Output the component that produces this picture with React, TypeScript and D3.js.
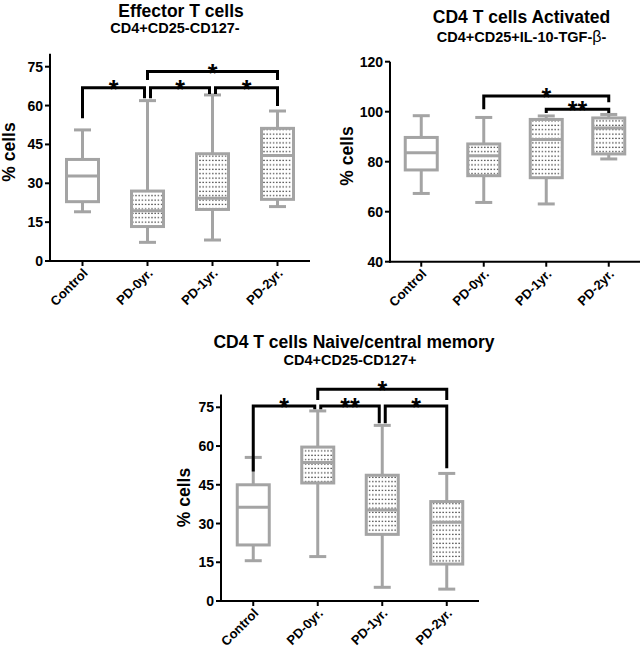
import React from "react";
import * as d3 from "d3";

const categories = ["Control", "PD-0yr.", "PD-1yr.", "PD-2yr."];
const patterned = [false, true, true, true];

// Effector T cells
const effTicks = [0, 15, 30, 45, 60, 75];
const effLow = [19.0, 7.2, 8.1, 21.0];
const effQ1 = [22.9, 13.3, 19.9, 23.8];
const effMed = [32.8, 19.4, 24.2, 40.7];
const effQ3 = [39.2, 27.0, 41.4, 51.2];
const effHigh = [50.6, 61.9, 64.1, 57.9];
const effBrackets = [
  { from: 0, to: 1, level: 66.9, leftEnd: 55.1, rightEnd: 62.8, label: "*" },
  { from: 1, to: 2, level: 66.9, leftEnd: 62.8, rightEnd: 64.5, label: "*" },
  { from: 1, to: 3, level: 73.1, leftEnd: 69.9, rightEnd: 69.9, label: "*" },
  { from: 2, to: 3, level: 66.9, leftEnd: 64.5, rightEnd: 59.8, label: "*" },
];

// CD4 T cells Activated
const actTicks = [40, 60, 80, 100, 120];
const actLow = [67.3, 63.7, 63.1, 81.1];
const actQ1 = [76.7, 74.4, 73.6, 83.1];
const actMed = [83.6, 82.4, 88.9, 93.5];
const actQ3 = [89.7, 87.1, 96.9, 97.5];
const actHigh = [98.4, 97.7, 98.3, 98.9];
const actBrackets = [
  { from: 1, to: 3, level: 106.3, leftEnd: 101.0, rightEnd: 103.8, label: "*" },
  { from: 2, to: 3, level: 101.0, leftEnd: 99.5, rightEnd: 99.5, label: "**" },
];

// CD4 T cells Naive/central memory
const naiTicks = [0, 15, 30, 45, 60, 75];
const naiLow = [15.6, 17.2, 5.3, 4.6];
const naiQ1 = [21.7, 45.7, 25.8, 14.3];
const naiMed = [36.3, 53.6, 35.2, 30.5];
const naiQ3 = [45.0, 59.6, 48.7, 38.5];
const naiHigh = [55.6, 73.6, 68.0, 49.4];
const naiBrackets = [
  { from: 0, to: 1, level: 75.5, leftEnd: 50.1, rightEnd: 74.2, label: "*" },
  { from: 1, to: 2, level: 75.5, leftEnd: 74.2, rightEnd: 68.8, label: "**" },
  { from: 1, to: 3, level: 82.0, leftEnd: 77.8, rightEnd: 77.8, label: "*" },
  { from: 2, to: 3, level: 75.5, leftEnd: 68.8, rightEnd: 51.4, label: "*" },
];

const FONT = "'Liberation Sans', Arial, Helvetica, sans-serif";
const GRAY = "#a4a4a4";

type Bracket = { from: number; to: number; level: number; leftEnd: number; rightEnd: number; label: string };

type PanelProps = {
  x0: number;
  x1: number;
  yBottom: number;
  yTop: number;
  domain: [number, number];
  ticks: number[];
  low: number[];
  q1: number[];
  med: number[];
  q3: number[];
  high: number[];
  brackets: Bracket[];
  title: string;
  subtitle: React.ReactNode;
  titleX: number;
  subX: number;
  titleY: number;
  subY: number;
  ylabX: number;
  ylabY: number;
};

function Panel(p: PanelProps) {
  const x = d3.scalePoint<string>().domain(categories).range([p.x0, p.x1]).padding(0.5);
  const y = d3.scaleLinear().domain(p.domain).range([p.yBottom, p.yTop]);
  const boxW = 32;
  const capW = 17;
  return (
    <g>
      <text x={p.titleX} y={p.titleY} textAnchor="middle" fontFamily={FONT} fontWeight="bold" fontSize={17.5}>
        {p.title}
      </text>
      <text x={p.subX} y={p.subY} textAnchor="middle" fontFamily={FONT} fontWeight="bold" fontSize={14.5}>
        {p.subtitle}
      </text>
      <text
        transform={`translate(${p.ylabX},${p.ylabY}) rotate(-90)`}
        textAnchor="middle"
        fontFamily={FONT}
        fontWeight="bold"
        fontSize={17.5}
      >
        % cells
      </text>
      {/* boxes */}
      {categories.map((c, i) => {
        const cx = x(c) as number;
        return (
          <g key={c} stroke={GRAY} strokeWidth={3} fill="none">
            <line x1={cx} x2={cx} y1={y(p.q3[i])} y2={y(p.high[i])} />
            <line x1={cx} x2={cx} y1={y(p.q1[i])} y2={y(p.low[i])} />
            <line x1={cx - capW / 2} x2={cx + capW / 2} y1={y(p.high[i])} y2={y(p.high[i])} />
            <line x1={cx - capW / 2} x2={cx + capW / 2} y1={y(p.low[i])} y2={y(p.low[i])} />
            <rect
              x={cx - boxW / 2}
              y={y(p.q3[i])}
              width={boxW}
              height={y(p.q1[i]) - y(p.q3[i])}
              fill={patterned[i] ? "url(#dots)" : "white"}
            />
            <line x1={cx - boxW / 2} x2={cx + boxW / 2} y1={y(p.med[i])} y2={y(p.med[i])} />
          </g>
        );
      })}
      {/* axes */}
      <g stroke="black" strokeWidth={2}>
        <line x1={p.x0} x2={p.x0} y1={p.yTop} y2={p.yBottom + 1} />
        <line x1={p.x0 - 1} x2={p.x1} y1={p.yBottom} y2={p.yBottom} />
        {p.ticks.map((t) => (
          <line key={t} x1={p.x0 - 5} x2={p.x0} y1={y(t)} y2={y(t)} />
        ))}
        {categories.map((c) => (
          <line key={c} x1={x(c)} x2={x(c)} y1={p.yBottom} y2={p.yBottom + 5} />
        ))}
      </g>
      {p.ticks.map((t) => (
        <text
          key={t}
          x={p.x0 - 7}
          y={y(t)}
          dy="0.36em"
          textAnchor="end"
          fontFamily={FONT}
          fontWeight="bold"
          fontSize={14}
        >
          {t}
        </text>
      ))}
      {categories.map((c) => (
        <text
          key={c}
          transform={`translate(${(x(c) as number) + 6},${p.yBottom + 13}) rotate(-45)`}
          textAnchor="end"
          fontFamily={FONT}
          fontWeight="bold"
          fontSize={13}
        >
          {c}
        </text>
      ))}
      {/* significance brackets */}
      {p.brackets.map((b, k) => {
        const sharedLeft = p.brackets.some((o) => o !== b && o.level === b.level && o.to === b.from);
        const sharedRight = p.brackets.some((o) => o !== b && o.level === b.level && o.from === b.to);
        const xl = (x(categories[b.from]) as number) + (sharedLeft ? 3 : 0);
        const xr = (x(categories[b.to]) as number) - (sharedRight ? 3 : 0);
        const path = d3.path();
        path.moveTo(xl, y(b.leftEnd));
        path.lineTo(xl, y(b.level));
        path.lineTo(xr, y(b.level));
        path.lineTo(xr, y(b.rightEnd));
        return (
          <g key={k}>
            <path d={path.toString()} stroke="black" strokeWidth={3} fill="none" />
            <text
              x={(xl + xr) / 2}
              y={y(b.level) + 10}
              textAnchor="middle"
              fontFamily={FONT}
              fontWeight="bold"
              fontSize={25}
            >
              {b.label}
            </text>
          </g>
        );
      })}
    </g>
  );
}

export default function App() {
  return (
    <svg
      width={642}
      height={648}
      viewBox="0 0 642 648"
      style={{ position: "absolute", left: 0, top: 0, background: "white" }}
    >
      <defs>
        <pattern id="dots" width={3.2} height={4.4} patternUnits="userSpaceOnUse">
          <rect width={3.2} height={4.4} fill="white" />
          <rect x={1} y={1.5} width={1.2} height={1.2} fill="#1a1a1a" />
        </pattern>
      </defs>
      <rect width={642} height={648} fill="white" />
      <Panel
        x0={50}
        x1={310}
        yBottom={261}
        yTop={261 - 80 * (194.3 / 75)}
        domain={[0, 80]}
        ticks={effTicks}
        low={effLow}
        q1={effQ1}
        med={effMed}
        q3={effQ3}
        high={effHigh}
        brackets={effBrackets}
        title="Effector T cells"
        subtitle="CD4+CD25-CD127-"
        titleX={181}
        subX={175}
        titleY={16.5}
        subY={32.5}
        ylabX={15}
        ylabY={152}
      />
      <Panel
        x0={390}
        x1={640}
        yBottom={261.7}
        yTop={61.7}
        domain={[40, 120]}
        ticks={actTicks}
        low={actLow}
        q1={actQ1}
        med={actMed}
        q3={actQ3}
        high={actHigh}
        brackets={actBrackets}
        title="CD4 T cells Activated"
        subtitle={
          <>
            CD4+CD25+IL-10-TGF-
            <tspan fontWeight="normal" fontSize={16}>
              β
            </tspan>
            -
          </>
        }
        titleX={521.5}
        subX={521.5}
        titleY={22.7}
        subY={41.7}
        ylabX={353}
        ylabY={156}
      />
      <Panel
        x0={221}
        x1={479}
        yBottom={601}
        yTop={601 - 80 * (193.7 / 75)}
        domain={[0, 80]}
        ticks={naiTicks}
        low={naiLow}
        q1={naiQ1}
        med={naiMed}
        q3={naiQ3}
        high={naiHigh}
        brackets={naiBrackets}
        title="CD4 T cells Naive/central memory"
        subtitle="CD4+CD25-CD127+"
        titleX={354}
        subX={350}
        titleY={348}
        subY={365}
        ylabX={190}
        ylabY={497.5}
      />
    </svg>
  );
}
